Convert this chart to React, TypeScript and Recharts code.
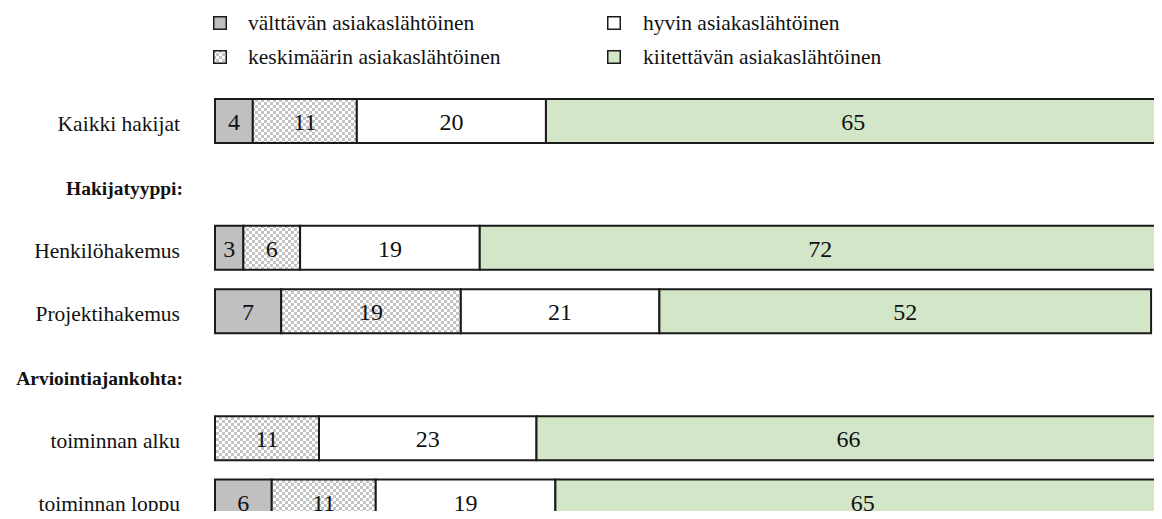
import React from "react";
import { BarChart, Bar, XAxis, YAxis, Legend, LabelList } from "recharts";

const categories = [
  "Kaikki hakijat",
  "Hakijatyyppi:",
  "Henkilöhakemus",
  "Projektihakemus",
  "Arviointiajankohta:",
  "toiminnan alku",
  "toiminnan loppu",
];
const headerRows = ["Hakijatyyppi:", "Arviointiajankohta:"];

const valttava = [4, null, 3, 7, null, 0, 6];
const keskimaarin = [11, null, 6, 19, null, 11, 11];
const hyvin = [20, null, 19, 21, null, 23, 19];
const kiitettava = [65, null, 72, 52, null, 66, 65];

const seriesNames = [
  "välttävän asiakaslähtöinen",
  "keskimäärin asiakaslähtöinen",
  "hyvin asiakaslähtöinen",
  "kiitettävän asiakaslähtöinen",
];

const data = categories.map((name, i) => ({
  name,
  v1: valttava[i],
  v2: keskimaarin[i],
  v3: hyvin[i],
  v4: kiitettava[i],
}));

const FONT = "Liberation Serif, Times New Roman, serif";
const GRAY = "#c0c0c0";
const GREEN = "#d3e6c7";
const STROKE = "#1a1a1a";

const series = [
  { key: "v1", name: seriesNames[0], fill: GRAY },
  { key: "v2", name: seriesNames[1], fill: "url(#checker)" },
  { key: "v3", name: seriesNames[2], fill: "#ffffff" },
  { key: "v4", name: seriesNames[3], fill: GREEN },
];

const CheckerDef = ({ id }: { id: string }) => (
  <pattern id={id} width={6} height={6} patternUnits="userSpaceOnUse">
    <rect x={0} y={0} width={6} height={6} fill="#ffffff" />
    <rect x={0} y={0} width={3} height={3} fill="#c4c4c4" />
    <rect x={3} y={3} width={3} height={3} fill="#c4c4c4" />
  </pattern>
);

const ValueLabel = (props: any) => {
  const { x, y, width, height, value } = props;
  if (value === null || value === undefined || value === 0) return null;
  return (
    <text
      x={x + width / 2}
      y={y + height / 2 + 9}
      textAnchor="middle"
      style={{ fontFamily: FONT }}
      fontSize={24}
      fill="#111"
    >
      {value}
    </text>
  );
};

const CategoryTick = (props: any) => {
  const { y, payload } = props;
  const isHeader = headerRows.includes(payload.value);
  return (
    <text
      x={isHeader ? 183 : 180}
      y={y + (isHeader ? 11 : 10)}
      textAnchor="end"
      style={{ fontFamily: FONT }}
      fontSize={isHeader ? 19.5 : 21.5}
      fontWeight={isHeader ? "bold" : "normal"}
      fill="#111"
    >
      {payload.value}
    </text>
  );
};

const legendPos = [
  { left: 213, top: 16 },
  { left: 213, top: 50 },
  { left: 607, top: 16 },
  { left: 607, top: 50 },
];

const LegendContent = () => (
  <div style={{ position: "relative", width: 1162, height: 80 }}>
    {series.map((s, i) => (
      <div
        key={s.key}
        style={{
          position: "absolute",
          left: legendPos[i].left,
          top: legendPos[i].top,
          display: "flex",
          alignItems: "center",
          whiteSpace: "nowrap",
        }}
      >
        <svg width={14} height={14} style={{ display: "block" }}>
          <defs>
            <CheckerDef id={`lg-checker-${i}`} />
          </defs>
          <rect
            x={0.75}
            y={0.75}
            width={12.5}
            height={12.5}
            fill={i === 1 ? `url(#lg-checker-${i})` : s.fill}
            stroke={STROKE}
            strokeWidth={1.5}
          />
        </svg>
        <span
          style={{
            marginLeft: i < 2 ? 21 : 22,
            fontFamily: FONT,
            fontSize: 21.5,
            color: "#111",
            lineHeight: "14px",
          }}
        >
          {s.name}
        </span>
      </div>
    ))}
  </div>
);

export default function App() {
  return (
    <div
      style={{
        margin: -8,
        width: 1162,
        height: 519,
        overflow: "hidden",
        position: "relative",
        background: "#fff",
        fontFamily: FONT,
      }}
    >
      <BarChart
        width={1180}
        height={540}
        data={data}
        layout="vertical"
        margin={{ top: 9, right: 10, bottom: 7, left: 0 }}
        barSize={44}
      >
        <defs>
          <CheckerDef id="checker" />
        </defs>
        <XAxis type="number" domain={[0, 100]} hide />
        <YAxis
          type="category"
          dataKey="name"
          width={215}
          axisLine={false}
          tickLine={false}
          interval={0}
          tick={<CategoryTick />}
        />
        <Legend
          verticalAlign="top"
          align="left"
          content={<LegendContent />}
          wrapperStyle={{ position: "absolute", left: 0, top: 0, width: 1162, height: 80 }}
        />
        {series.map((s) => (
          <Bar
            key={s.key}
            dataKey={s.key}
            name={s.name}
            stackId="a"
            fill={s.fill}
            stroke={STROKE}
            strokeWidth={2}
            isAnimationActive={false}
          >
            <LabelList dataKey={s.key} content={<ValueLabel />} />
          </Bar>
        ))}
      </BarChart>
    </div>
  );
}
